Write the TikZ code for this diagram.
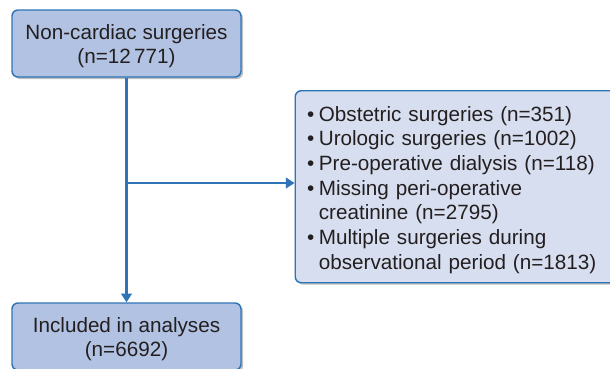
\documentclass[tikz,border=0pt]{standalone}
\usepackage{fontspec}
\setmainfont{Liberation Sans}
\usetikzlibrary{arrows.meta, shadows}

\definecolor{boxblue}{RGB}{178,194,226}
\definecolor{listblue}{RGB}{215,222,239}
\definecolor{edgeblue}{RGB}{46,116,183}
\definecolor{inkgray}{RGB}{35,31,32}

\newcommand{\itemdot}{\textbullet\hspace{3.3pt}}
\newcommand{\itemgap}{\hphantom{\itemdot}}
\newcommand{\topgap}[1]{\rule{0pt}{#1}}

\begin{document}
\begin{tikzpicture}[x=0.75pt, y=-0.75pt,
  box/.style={draw=edgeblue, line width=1.1pt, rounded corners=4.5pt,
    fill=boxblue, text=inkgray, align=center,
    minimum width=171.75pt, minimum height=50.25pt, inner sep=0pt,
    font=\fontsize{15.5}{18}\selectfont,
    drop shadow={shadow xshift=1.5pt, shadow yshift=-1.5pt, opacity=0.25, fill=black}},
  listbox/.style={box, fill=listblue, align=left, anchor=north west,
    minimum width=252pt, minimum height=144pt, inner xsep=8.5pt,
    text width=234pt, font=\fontsize{15.5}{18.5}\selectfont},
  flow/.style={draw=edgeblue, line width=1.9pt,
    -{Triangle[length=6.5pt, width=8pt]}}]
\useasboundingbox (0,0) rectangle (610,368);

\node[box] (start) at (126.5,43.5) {\topgap{15pt}Non-cardiac surgeries\\(n=12\,771)};
\node[box] (incl) at (126.5,336.5) {\topgap{15pt}Included in analyses\\(n=6692)};
\node[listbox] (excl) at (294.5,90) {%
  \topgap{16pt}\itemdot Obstetric surgeries (n=351)\\
  \itemdot Urologic surgeries (n=1002)\\
  \itemdot Pre-operative dialysis (n=118)\\
  \itemdot Missing peri-operative\\
  \itemgap creatinine (n=2795)\\
  \itemdot Multiple surgeries during\\
  \itemgap observational period (n=1813)};

% flow lines
\coordinate (split) at (126.5,183);
\draw[flow] (start.south) -- (incl.north);
\draw[flow] (split) -- (split -| excl.west);
\end{tikzpicture}
\end{document}
